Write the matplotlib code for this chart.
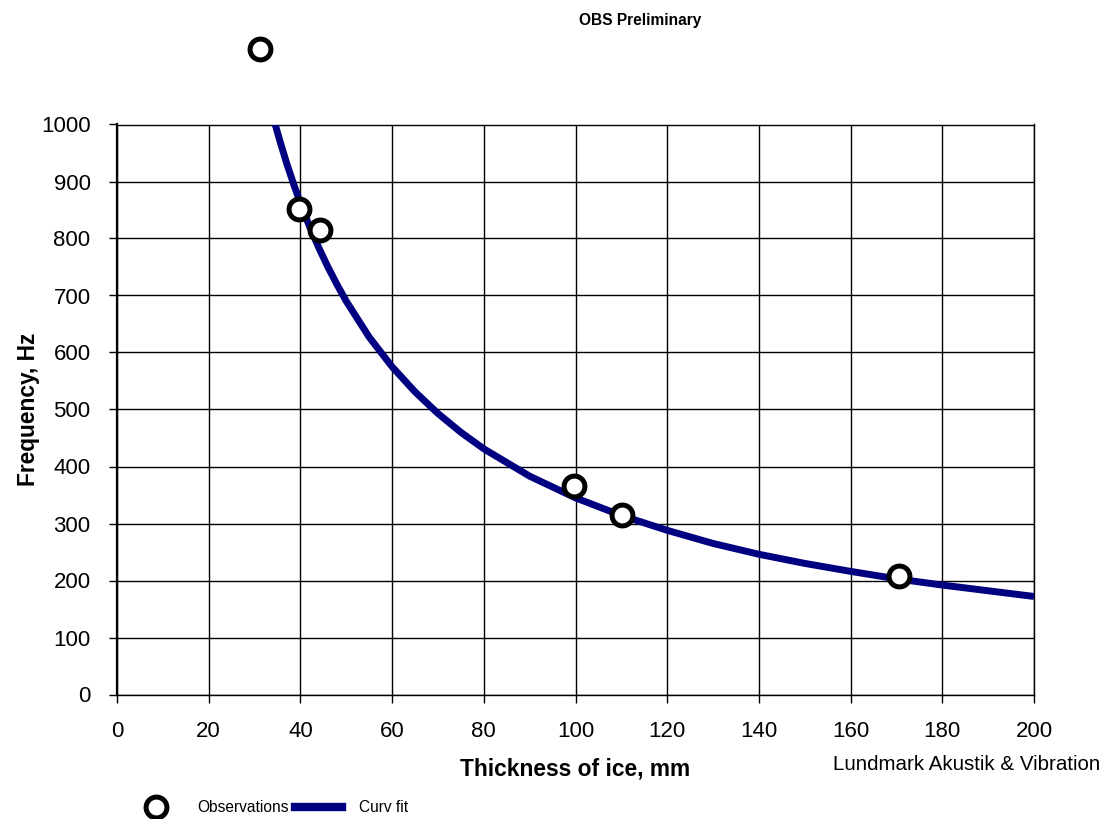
import matplotlib
matplotlib.use('Agg')
import matplotlib.pyplot as plt
from matplotlib.lines import Line2D

plt.rcParams['font.family'] = ['Liberation Sans', 'DejaVu Sans']

# Observations (thickness mm, frequency Hz)
obs_thick = [31.2, 39.7, 44.3, 99.7, 110.1, 170.6]
obs_freq = [1132, 852, 815, 366, 315, 208]

# Curve fit
fit_thick = [34.5, 35.5, 37, 38.5, 40, 42, 44, 46, 48, 50, 55, 60, 65, 70, 75, 80, 90,
             100, 110, 120, 130, 140, 150, 160, 170, 180, 190, 200]
fit_freq = [1000, 972, 932, 896, 862, 821, 784, 750, 719, 690, 627, 575, 531, 493, 460,
            431, 383, 345, 314, 288, 265, 246, 230, 216, 203, 192, 182, 172]

xticks = list(range(0, 201, 20))
yticks = list(range(0, 1001, 100))

fig = plt.figure(figsize=(11.06, 8.19), dpi=100)
ax = fig.add_axes([117 / 1106, 124.5 / 819, 917 / 1106, 570 / 819])

ax.plot(fit_thick, fit_freq, color='#000080', lw=5.0, solid_capstyle='butt',
        solid_joinstyle='round', zorder=3)
ax.plot(obs_thick, obs_freq, ls='none', marker='o', ms=15, mfc='white', mec='black',
        mew=3.6, clip_on=False, zorder=4)

ax.set_xlim(0, 200)
ax.set_ylim(0, 1000)
ax.set_xticks(xticks)
ax.set_yticks(yticks)
ax.grid(True, color='black', lw=1.0)
ax.set_axisbelow(True)
for s in ax.spines.values():
    s.set_color('black')
    s.set_linewidth(1.0)
ax.spines['left'].set_linewidth(1.6)
ax.tick_params(axis='both', direction='out', length=6, width=1.0, color='black',
               labelsize=16)
ax.tick_params(axis='x', pad=13)
ax.tick_params(axis='y', pad=13)

ax.set_xlabel('Thickness of ice, mm', fontsize=16.4, fontweight='bold', labelpad=11)
ax.set_ylabel('Frequency, Hz', fontsize=16.4, fontweight='bold', labelpad=1)

fig.text(640 / 1106, 1 - 20 / 819, 'OBS Preliminary', fontsize=11.2, fontweight='bold',
         ha='center', va='center')
fig.text(833 / 1106, 1 - 765 / 819, 'Lundmark Akustik & Vibration', fontsize=14.8,
         ha='left', va='center')

handles = [Line2D([], [], ls='none', marker='o', ms=15, mfc='white', mec='black', mew=3.6),
           Line2D([], [], color='#000080', lw=6)]
fig.legend(handles, ['Observations', 'Curv fit'], loc='center left', ncol=2,
           bbox_to_anchor=(133 / 1106, 11 / 819), frameon=False, fontsize=11.2,
           handlelength=3.0, handletextpad=1.1, columnspacing=0.45,
           borderpad=0, borderaxespad=0)

fig.savefig('out.png', dpi=100)
